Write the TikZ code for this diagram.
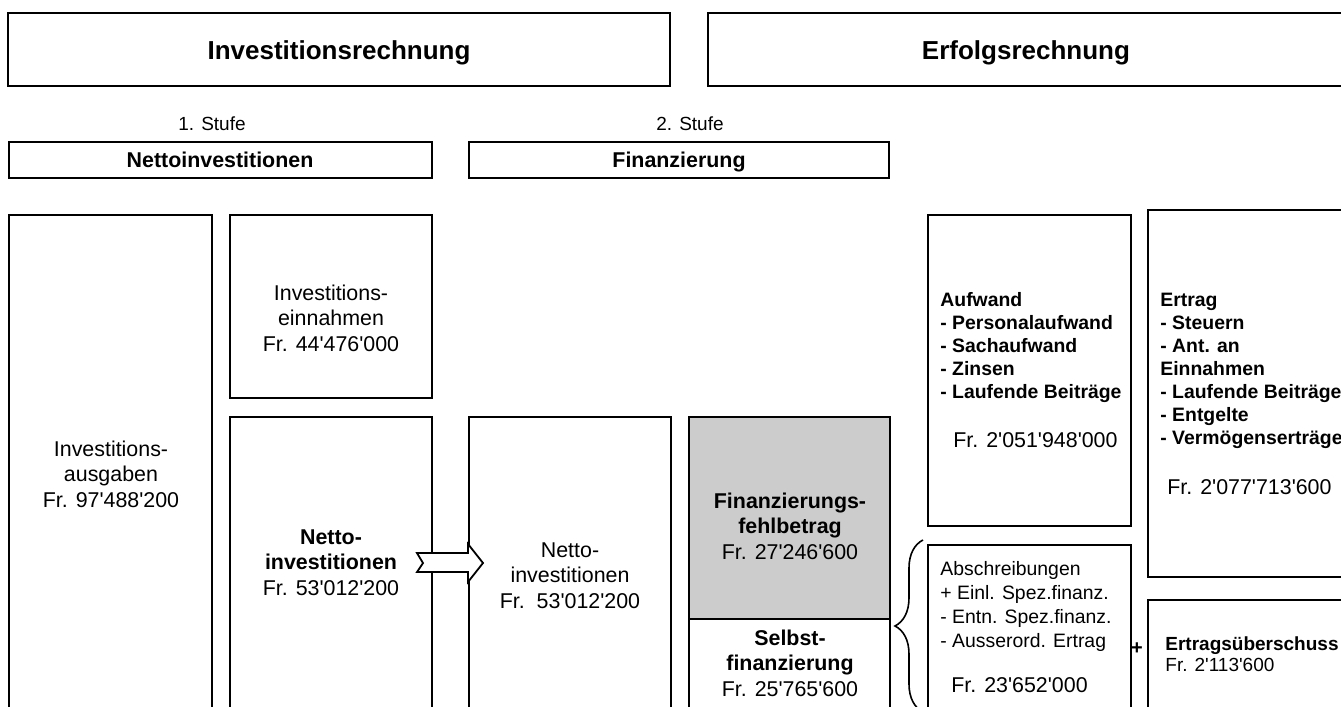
\documentclass[tikz,border=0pt]{standalone}
\usepackage{fontspec}
\setmainfont{Liberation Sans}[Ligatures=TeXOff]
\usetikzlibrary{positioning,fit,calc,decorations.pathreplacing}

\tikzset{
  box/.style={draw, line width=0.9pt, inner sep=0pt, fit={#1}},
  title/.style={font=\fontsize{13}{15}\selectfont\bfseries, anchor=base},
  stage/.style={font=\fontsize{9.5}{11}\selectfont, anchor=base},
  head/.style={font=\fontsize{10.7}{12.5}\selectfont\bfseries, anchor=base},
  txt/.style={font=\fontsize{10.7}{12.6}\selectfont, align=center, anchor=base},
  lst/.style={font=\fontsize{9.7}{11.5}\selectfont, align=left, anchor=base west, inner sep=0pt},
  val/.style={font=\fontsize{10.7}{12.6}\selectfont, anchor=base west, inner sep=0pt}
}

\begin{document}
\begin{tikzpicture}[x=0.5pt, y=-0.5pt]
  \useasboundingbox (0,0) rectangle (1341,707);
  \clip (0,0) rectangle (1341,707);

  % Kopfzeile
  \node[box={(8,13) (670,86)}]   (inv) {};
  \node[box={(708,13) (1360,86)}] (erf) {};
  \node[title] (invtitle) at (339,59)  {Investitionsrechnung};
  \node[title] (erftitle) at (1026,59) {Erfolgsrechnung};

  % Stufen
  \node[stage] (stufe1) at (212,130) {1. Stufe};
  \node[stage] (stufe2) at (690,130) {2. Stufe};
  \node[box={(9,142) (432,178)}]   (nihead)  {};
  \node[box={(469,142) (889,178)}] (finhead) {};
  \node[head] (nititle)  at (220,167) {Nettoinvestitionen};
  \node[head] (fintitle) at (679,167) {Finanzierung};

  % Investitionsrechnung
  \node[box={(9,215) (212,720)}]   (ausg)     {};
  \node[box={(230,215) (432,398)}] (einn)     {};
  \node[box={(230,417) (432,720)}] (nettoinv) {};
  \node[box={(469,417) (671,720)}] (netto)    {};
  \node[box={(689,417) (890,619)}, fill=black!20] (fehl) {};
  \node[box={(689,619) (890,720)}] (selbst)   {};

  % Erfolgsrechnung
  \node[box={(928,215) (1131,526)}]  (aufw)   {};
  \node[box={(1148,210) (1360,577)}] (ertrag) {};
  \node[box={(928,545) (1131,720)}]  (absch)  {};
  \node[box={(1148,600) (1360,720)}] (ueber)  {};

  % Pfeil Nettoinvestitionen -> Finanzierung
  \draw[line width=0.9pt, fill=white] (417,553) -- (423,563) -- (417,572)
    -- (468,572) -- (468,582) -- (483,563) -- (468,544) -- (468,553) -- cycle;

  % Klammer Selbstfinanzierung
  \draw[line width=0.8pt, decorate, decoration={brace, amplitude=14pt}]
    (923,712) -- (923,540);

  \node[txt] (ausgtxt) at (111,507)
    {Investitions-\\ausgaben\\Fr. 97'488'200};
  \node[txt] (einntxt) at (331,351)
    {Investitions-\\einnahmen\\Fr. 44'476'000};
  \node[txt] (nettoinvtxt) at (331,595)
    {\textbf{Netto-}\\\textbf{investitionen}\\Fr. 53'012'200};
  \node[txt] (nettotxt) at (570,608)
    {Netto-\\investitionen\\Fr.\ \ 53'012'200};
  \node[txt] (fehltxt) at (790,559)
    {\textbf{Finanzierungs-}\\\textbf{fehlbetrag}\\Fr. 27'246'600};
  \node[txt] (selbsttxt) at (790,696)
    {\textbf{Selbst-}\\\textbf{finanzierung}\\Fr. 25'765'600};

  \node[lst, font=\fontsize{9.7}{11.5}\selectfont\bfseries] (aufwtxt) at (940,398)
    {Aufwand\\- Personalaufwand\\- Sachaufwand\\- Zinsen\\- Laufende Beiträge};
  \node[val] (aufwval) at (953,447) {Fr. 2'051'948'000};
  \node[lst, font=\fontsize{9.7}{11.5}\selectfont\bfseries] (ertragtxt) at (1160,444)
    {Ertrag\\- Steuern\\- Ant. an\\Einnahmen\\- Laufende Beiträge\\- Entgelte\\- Vermögenserträge};
  \node[val] (ertragval) at (1167,494) {Fr. 2'077'713'600};
  \node[lst, font=\fontsize{9.7}{12}\selectfont] (abschtxt) at (940,647)
    {Abschreibungen\\+ Einl. Spez.finanz.\\- Entn. Spez.finanz.\\- Ausserord. Ertrag};
  \node[val] (abschval) at (951,692) {Fr. 23'652'000};
  \node[font=\fontsize{10}{12}\selectfont\bfseries] (plus) at (1137,649) {+};
  \node[lst, font=\fontsize{9.5}{10.5}\selectfont] (uebertxt) at (1165,671)
    {\textbf{Ertragsüberschuss}\\Fr. 2'113'600};
\end{tikzpicture}
\end{document}
